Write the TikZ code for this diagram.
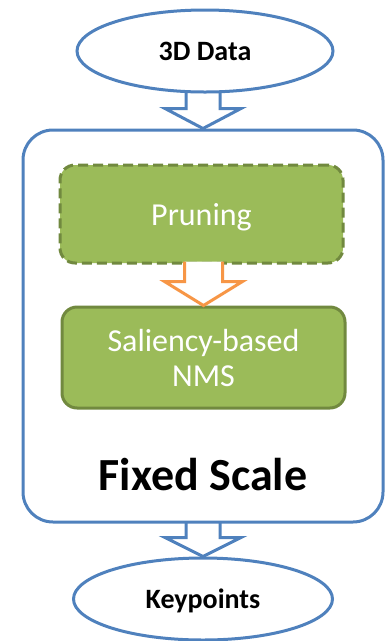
\documentclass[tikz,border=0pt]{standalone}
\usepackage{fontspec}
\setmainfont{Carlito}
\usetikzlibrary{shapes.geometric,calc,backgrounds}
\definecolor{cblue}{HTML}{4F81BD}
\definecolor{cgreen}{HTML}{9BBB59}
\definecolor{cdkgreen}{HTML}{71893F}
\definecolor{corange}{HTML}{F79646}
\tikzset{
  ell/.style={ellipse, draw=cblue, line width=3pt, fill=white, inner sep=0pt,
    text depth=0pt, font=\fontsize{28}{30}\selectfont\bfseries},
  mainbox/.style={draw=cblue, line width=3pt, fill=white, rounded corners=30pt,
    inner sep=0pt, minimum width=360pt, minimum height=392pt},
  greenbox/.style={draw=cdkgreen, line width=3pt, fill=cgreen, rounded corners=15pt,
    inner sep=0pt, text=white, align=center, font=\fontsize{32}{35}\selectfont,
    minimum width=283pt},
  hollowblue/.style={draw=cblue, line width=3pt, fill=white, line join=miter},
  holloworange/.style={draw=corange, line width=3pt, fill=white, line join=miter},
}
\begin{document}
\begin{tikzpicture}[x=1pt,y=-1pt]
\useasboundingbox (0,0) rectangle (389,641);
\node[ell, minimum width=256pt, minimum height=82pt] (data) at (205,51) {3D Data};
\node[mainbox] (scale) at (203,326) {};
\node[font=\fontsize{46}{50}\selectfont\bfseries, inner sep=0pt, anchor=base] (fs) at (203,490) {Fixed Scale};
\node[greenbox, dash pattern=on 10pt off 5pt, minimum height=98pt, text depth=0pt] (prune) at (201.5,214) {Pruning};
\node[greenbox, minimum height=101pt] (nms) at (203.5,357.5) {Saliency-based\\NMS};
\node[ell, minimum width=259pt, minimum height=82pt] (kp) at (203,599) {Keypoints};
\begin{scope}[on background layer]
\draw[hollowblue] ($(scale.north)+(-17,-50)$) -- ($(scale.north)+(-17,-20)$) -- ($(scale.north)+(-38,-20)$)
  -- (scale.north) -- ($(scale.north)+(38,-20)$) -- ($(scale.north)+(17,-20)$) -- ($(scale.north)+(17,-50)$);
\draw[hollowblue] ($(kp.north)+(-17,-50)$) -- ($(kp.north)+(-17,-19)$) -- ($(kp.north)+(-38,-19)$)
  -- (kp.north) -- ($(kp.north)+(38,-19)$) -- ($(kp.north)+(17,-19)$) -- ($(kp.north)+(17,-50)$);
\end{scope}
\draw[holloworange] ($(nms.north)+(-19,-44)$) -- ($(nms.north)+(-19,-24)$) -- ($(nms.north)+(-39,-24)$)
  -- (nms.north) -- ($(nms.north)+(39,-24)$) -- ($(nms.north)+(19,-24)$) -- ($(nms.north)+(19,-44)$);
\end{tikzpicture}
\end{document}
